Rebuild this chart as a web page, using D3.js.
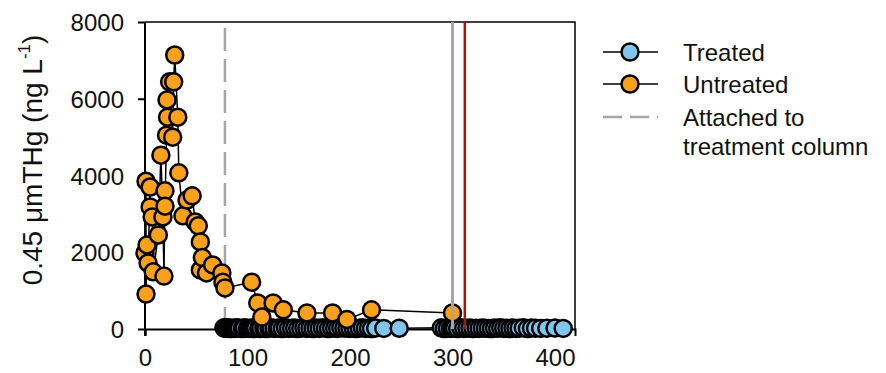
<!DOCTYPE html>
<html>
<head>
<meta charset="utf-8">
<script src="https://cdn.jsdelivr.net/npm/d3@7"></script>
<style>
  body { margin: 0; background: #fff; }
  text { font-family: "Liberation Sans", Arial, sans-serif; fill: #111; }
</style>
</head>
<body>
<svg id="chart" width="886" height="373"></svg>
<script>

//
// Data
//
var untreatedDay = [0, 1, 1, 2, 3, 5, 5, 7, 8, 13, 15.5, 17.5, 18.5, 19.5, 19.5, 21, 21.5, 22, 24, 27, 28, 29, 32, 33, 37, 41, 46, 49, 52, 54, 54, 56, 60, 66, 75, 76, 78, 104, 110, 114, 125, 135, 158, 183, 197, 221, 300];
var untreatedVal = [1980, 3850, 910, 2190, 1720, 3700, 3180, 2920, 1490, 2450, 4530, 2920, 1380, 3600, 3200, 5050, 5970, 5520, 6440, 5000, 6440, 7140, 5520, 4070, 2950, 3360, 3470, 2790, 2690, 2270, 1540, 1860, 1460, 1670, 1460, 1220, 1070, 1220, 680, 310, 680, 500, 420, 420, 250, 500, 420];

var treatedDay = [77, 78, 79, 80, 81, 82, 84, 86, 88, 90, 92, 95, 97, 100, 102, 104, 106, 108, 111, 113, 116, 118, 121, 123, 126, 129, 131, 134, 137, 140, 143, 146, 149, 152, 155, 158, 161, 164, 167, 170, 173, 176, 179, 182, 185, 188, 191, 194, 197, 200, 203, 206, 209, 212, 215, 218, 221, 225, 233, 248, 289, 292, 295, 298, 300, 302, 305, 308, 311, 314, 317, 320, 323, 326, 329, 332, 335, 338, 341, 344, 347, 350, 353, 356, 359, 362, 365, 369, 373, 377, 381, 386, 392, 400, 408];
var treatedVal = [30, 20, 25, 15, 30, 20, 10, 25, 15, 30, 20, 10, 35, 20, 15, 25, 10, 30, 20, 15, 25, 10, 20, 30, 15, 20, 25, 10, 30, 15, 20, 25, 10, 20, 30, 15, 20, 10, 25, 15, 30, 20, 10, 25, 20, 15, 30, 25, 20, 15, 25, 10, 20, 30, 15, 20, 10, 25, 15, 20, 30, 10, 20, 15, 25, 20, 10, 30, 15, 20, 25, 10, 20, 15, 25, 20, 15, 10, 25, 20, 30, 15, 20, 10, 25, 15, 20, 30, 10, 25, 20, 15, 20, 25, 15];

var xTicks = [0, 100, 200, 300, 400];
var yTicks = [0, 2000, 4000, 6000, 8000];

var attachedDay = 78;     // dashed grey line
var greyLineDay = 300;
var redLineDay = 312;

var legendItems = ['Treated', 'Untreated'];

var orange = "#f9a11b";
var blue = "#80c6ec";
var grey = "#a6a6a6";
var red = "#a3161a";

//
// Layout
//
var mLeft = 145, mRight = 575, mTop = 22, mBottom = 329;

var svg = d3.select("#chart");

var x = d3.scaleLinear().domain([0, 419.5]).range([mLeft, mRight]);
var y = d3.scaleLinear().domain([0, 8000]).range([mBottom, mTop]);

function pts(days, vals) {
    return days.map(function (d, i) { return [d, vals[i]]; });
}
var untreated = pts(untreatedDay, untreatedVal);
var treated = pts(treatedDay, treatedVal);

// frame (top + right)
svg.append("path")
    .attr("d", "M" + mLeft + "," + mTop + "H" + mRight + "V" + mBottom)
    .attr("fill", "none")
    .attr("stroke", "#000")
    .attr("stroke-width", 1.5);

// dashed "attached" line sits behind the data
svg.append("line")
    .attr("x1", x(attachedDay)).attr("x2", x(attachedDay))
    .attr("y1", mTop + 6).attr("y2", mBottom)
    .attr("stroke", grey)
    .attr("stroke-width", 2.5)
    .attr("stroke-dasharray", "23,8");

// axes
var xAxis = svg.append("g")
    .attr("transform", "translate(0," + mBottom + ")")
    .call(d3.axisBottom(x).tickValues(xTicks).tickFormat(d3.format("d")).tickSize(7).tickPadding(13));
var yAxis = svg.append("g")
    .attr("transform", "translate(" + mLeft + ",0)")
    .call(d3.axisLeft(y).tickValues(yTicks).tickFormat(d3.format("d")).tickSize(7).tickPadding(14));

[xAxis, yAxis].forEach(function (g) {
    g.select(".domain").attr("stroke-width", 2).attr("stroke", "#000");
    g.selectAll(".tick line").attr("stroke-width", 2).attr("stroke", "#000");
    g.selectAll(".tick text")
        .attr("font-size", 24)
        .attr("font-family", "Liberation Sans, Arial, sans-serif")
        .attr("fill", "#111");
});
yAxis.select(".domain").attr("d", "M0," + (mBottom + 7) + "V" + mTop);
yAxis.selectAll(".tick text").attr("dy", "0.36em");

// series
var line = d3.line()
    .x(function (d) { return x(d[0]); })
    .y(function (d) { return y(d[1]); });

function drawSeries(data, fill) {
    var g = svg.append("g");
    g.append("path")
        .datum(data)
        .attr("d", line)
        .attr("fill", "none")
        .attr("stroke", "#000")
        .attr("stroke-width", 1.5);
    g.selectAll("circle")
        .data(data)
        .enter()
        .append("circle")
        .attr("cx", function (d) { return x(d[0]); })
        .attr("cy", function (d) { return y(d[1]); })
        .attr("r", 8.5)
        .attr("fill", fill)
        .attr("stroke", "#000")
        .attr("stroke-width", 2.5);
}

drawSeries(treated, blue);
drawSeries(untreated, orange);

// solid vertical lines on top
svg.append("line")
    .attr("x1", x(greyLineDay)).attr("x2", x(greyLineDay))
    .attr("y1", mTop).attr("y2", mBottom)
    .attr("stroke", grey).attr("stroke-width", 3);
svg.append("line")
    .attr("x1", x(redLineDay)).attr("x2", x(redLineDay))
    .attr("y1", mTop).attr("y2", mBottom)
    .attr("stroke", red).attr("stroke-width", 2.5);

// y axis title
var title = svg.append("text")
    .attr("transform", "rotate(-90)")
    .attr("x", -160)
    .attr("y", 42)
    .attr("text-anchor", "middle")
    .attr("font-size", 28);
title.append("tspan").text("0.45 \u03bcmTHg (ng L");
title.append("tspan").attr("font-size", 17).attr("dy", -12).text("-1");
title.append("tspan").attr("dy", 12).text(")");

//
// Legend
//
var lg = svg.append("g");
var legendColors = [blue, orange];
var legendY = [52, 84];

legendItems.forEach(function (name, i) {
    lg.append("line")
        .attr("x1", 603).attr("x2", 658)
        .attr("y1", legendY[i]).attr("y2", legendY[i])
        .attr("stroke", "#000").attr("stroke-width", 1.5);
    lg.append("circle")
        .attr("cx", 630).attr("cy", legendY[i]).attr("r", 8.5)
        .attr("fill", legendColors[i])
        .attr("stroke", "#000").attr("stroke-width", 2.5);
    lg.append("text")
        .attr("x", 683).attr("y", legendY[i] + 8.5)
        .attr("font-size", 24)
        .text(name);
});

lg.append("line")
    .attr("x1", 603).attr("x2", 658)
    .attr("y1", 117).attr("y2", 117)
    .attr("stroke", grey).attr("stroke-width", 2.5)
    .attr("stroke-dasharray", "19,8");
lg.append("text")
    .attr("x", 683).attr("y", 125.5)
    .attr("font-size", 24)
    .text("Attached to");
lg.append("text")
    .attr("x", 683).attr("y", 154.5)
    .attr("font-size", 24)
    .text("treatment column");

</script>
</body>
</html>
